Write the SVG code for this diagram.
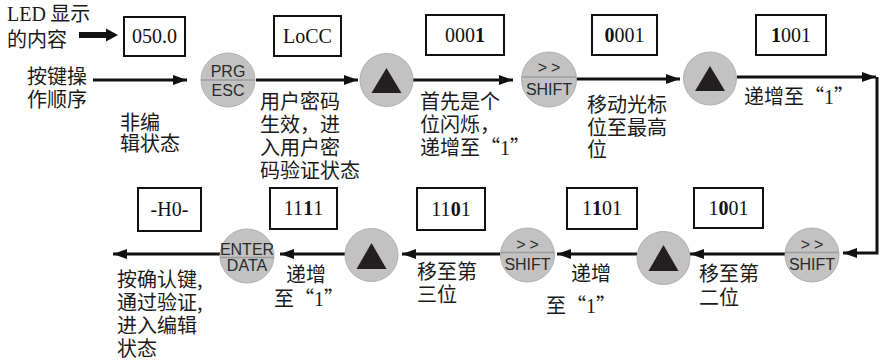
<svg xmlns="http://www.w3.org/2000/svg" width="880" height="363" viewBox="0 0 880 363">
<style>
.cjk{font-family:"Noto Sans CJK SC","Noto Sans",sans-serif;font-size:20px;fill:#1a1a1a}
.ser{font-family:"Liberation Serif","Times New Roman",serif}
.box{fill:#fff;stroke:#111;stroke-width:2}
.bt{font-family:"Liberation Serif","Times New Roman",serif;font-size:20px;fill:#111;text-anchor:middle}
.btn{fill:#c2c2c2;stroke:#b0b0b0;stroke-width:1}
.div{stroke:#9c9c9c;stroke-width:1.5}
.bl{font-family:"Liberation Sans",Arial,sans-serif;font-size:16px;fill:#2a2a2a;text-anchor:middle}
.tri{fill:#231f20}
.ln{fill:none;stroke:#111;stroke-width:3;marker-end:url(#ah)}
</style>
<defs>
<marker id="ah" markerUnits="userSpaceOnUse" markerWidth="15" markerHeight="11" refX="14" refY="5" orient="auto">
<path d="M0,0 L14,5 L0,10 z" fill="#111"/>
</marker>
</defs>

<g id="legend">
<text class="cjk" x="7" y="21"><tspan class="ser">LED</tspan> 显示</text>
<text class="cjk" x="7" y="47">的内容</text>
<text class="cjk" x="27" y="83.5">按键操</text>
<text class="cjk" x="27" y="106.5">作顺序</text>
</g>

<g id="connectors">
<path d="M79,35 H107" stroke="#111" stroke-width="6" fill="none"/>
<path d="M106,28.5 L118,35 L106,41.5 z" fill="#111"/>
<path class="ln" d="M93,80 H187"/>
<path class="ln" d="M256,80 H358"/>
<path class="ln" d="M413,80 H513"/>
<path class="ln" d="M576,79 H680"/>
<path class="ln" d="M737,77 H876"/>
<path class="ln" d="M877,77 V253 H843" stroke-linejoin="miter"/>
<path class="ln" d="M785,254 H690"/>
<path class="ln" d="M637,254 H557"/>
<path class="ln" d="M500,254 H402"/>
<path class="ln" d="M345,254 H280"/>
<path class="ln" d="M220,254 H113"/>
</g>

<g id="box-0500">
<rect class="box" x="124" y="17" width="61" height="39"/>
<text class="bt" x="154.5" y="43">050.0</text>
</g>
<g id="box-locc">
<rect class="box" x="274" y="16" width="67" height="40"/>
<text class="bt" x="307.5" y="43">LoCC</text>
</g>
<g id="box-0001a">
<rect class="box" x="426" y="15" width="78" height="40"/>
<text class="bt" x="465" y="42">000<tspan font-weight="bold">1</tspan></text>
</g>
<g id="box-0001b">
<rect class="box" x="592" y="15" width="65" height="40"/>
<text class="bt" x="624.5" y="42"><tspan font-weight="bold">0</tspan>001</text>
</g>
<g id="box-1001a">
<rect class="box" x="756" y="15" width="70" height="40"/>
<text class="bt" x="791" y="42"><tspan font-weight="bold">1</tspan>001</text>
</g>
<g id="box-1001b">
<rect class="box" x="694" y="188" width="69" height="40"/>
<text class="bt" x="728.5" y="215">1<tspan font-weight="bold">0</tspan>01</text>
</g>
<g id="box-1101a">
<rect class="box" x="567" y="188" width="70" height="41"/>
<text class="bt" x="602" y="215">1<tspan font-weight="bold">1</tspan>01</text>
</g>
<g id="box-1101b">
<rect class="box" x="417" y="188" width="68" height="42"/>
<text class="bt" x="451" y="216">11<tspan font-weight="bold">0</tspan>1</text>
</g>
<g id="box-1111">
<rect class="box" x="270" y="188" width="67" height="41"/>
<text class="bt" x="303.5" y="215">11<tspan font-weight="bold">1</tspan>1</text>
</g>
<g id="box-h0">
<rect class="box" x="138" y="188" width="63" height="43"/>
<text class="bt" x="169.5" y="216">-H0-</text>
</g>

<g id="btn-prg">
<circle class="btn" cx="228" cy="80" r="27"/>
<line class="div" x1="201" y1="80" x2="255" y2="80"/>
<text class="bl" x="228" y="77">PRG</text>
<text class="bl" x="228" y="96">ESC</text>
</g>
<g id="btn-up1">
<circle class="btn" cx="386.5" cy="80" r="26.5"/>
<polygon class="tri" points="386.5,68 371.5,93 401.5,93"/>
</g>
<g id="btn-shift1">
<circle class="btn" cx="549" cy="79.5" r="27.5"/>
<line class="div" x1="522" y1="77" x2="576" y2="77"/>
<text class="bl" x="551" y="73" letter-spacing="4">&gt;&gt;</text>
<text class="bl" x="549" y="95">SHIFT</text>
</g>
<g id="btn-up2">
<circle class="btn" cx="710" cy="78.5" r="26.5"/>
<polygon class="tri" points="710,66 695,91 725,91"/>
</g>
<g id="btn-shift2">
<circle class="btn" cx="812" cy="255" r="27"/>
<line class="div" x1="785" y1="252.5" x2="839" y2="252.5"/>
<text class="bl" x="814" y="250" letter-spacing="4">&gt;&gt;</text>
<text class="bl" x="812" y="270">SHIFT</text>
</g>
<g id="btn-up3">
<circle class="btn" cx="663.5" cy="258" r="26.5"/>
<polygon class="tri" points="663.5,245 648.5,271 678.5,271"/>
</g>
<g id="btn-shift3">
<circle class="btn" cx="527.5" cy="255" r="27"/>
<line class="div" x1="500.5" y1="252.5" x2="554.5" y2="252.5"/>
<text class="bl" x="529.5" y="250" letter-spacing="4">&gt;&gt;</text>
<text class="bl" x="527.5" y="270">SHIFT</text>
</g>
<g id="btn-up4">
<circle class="btn" cx="371.5" cy="255" r="26.5"/>
<polygon class="tri" points="371.5,243 356.5,269 386.5,269"/>
</g>
<g id="btn-enter">
<circle class="btn" cx="247" cy="256" r="27"/>
<line class="div" x1="220" y1="257.5" x2="274" y2="257.5"/>
<text class="bl" x="247" y="255" font-size="15">ENTER</text>
<text class="bl" x="247" y="270.5" font-size="14">DATA</text>
</g>

<g id="labels">
<text class="cjk" x="120" y="130">非编</text>
<text class="cjk" x="120" y="150.5">辑状态</text>
<text class="cjk" x="260" y="109">用户密码</text>
<text class="cjk" x="260" y="132">生效，进</text>
<text class="cjk" x="260" y="155">入用户密</text>
<text class="cjk" x="260" y="178">码验证状态</text>
<text class="cjk" x="420" y="108.5">首先是个</text>
<text class="cjk" x="420" y="131.5">位闪烁，</text>
<text class="cjk" x="420" y="155">递增至“<tspan class="ser">1</tspan>”</text>
<text class="cjk" x="587" y="111.5">移动光标</text>
<text class="cjk" x="587" y="135">位至最高</text>
<text class="cjk" x="587" y="156.5">位</text>
<text class="cjk" x="744" y="103.5">递增至“<tspan class="ser">1</tspan>”</text>
<text class="cjk" x="699" y="280.5">移至第</text>
<text class="cjk" x="699" y="305">二位</text>
<text class="cjk" x="571" y="280.5">递增</text>
<text class="cjk" x="546" y="313">至“<tspan class="ser">1</tspan>”</text>
<text class="cjk" x="417" y="278.5">移至第</text>
<text class="cjk" x="417" y="301.5">三位</text>
<text class="cjk" x="286" y="281.5">递增</text>
<text class="cjk" x="274" y="305.5">至“<tspan class="ser">1</tspan>”</text>
<text class="cjk" x="117" y="286.5">按确认键,</text>
<text class="cjk" x="117" y="310">通过验证,</text>
<text class="cjk" x="117" y="333">进入编辑</text>
<text class="cjk" x="117" y="355.5">状态</text>
</g>
</svg>
